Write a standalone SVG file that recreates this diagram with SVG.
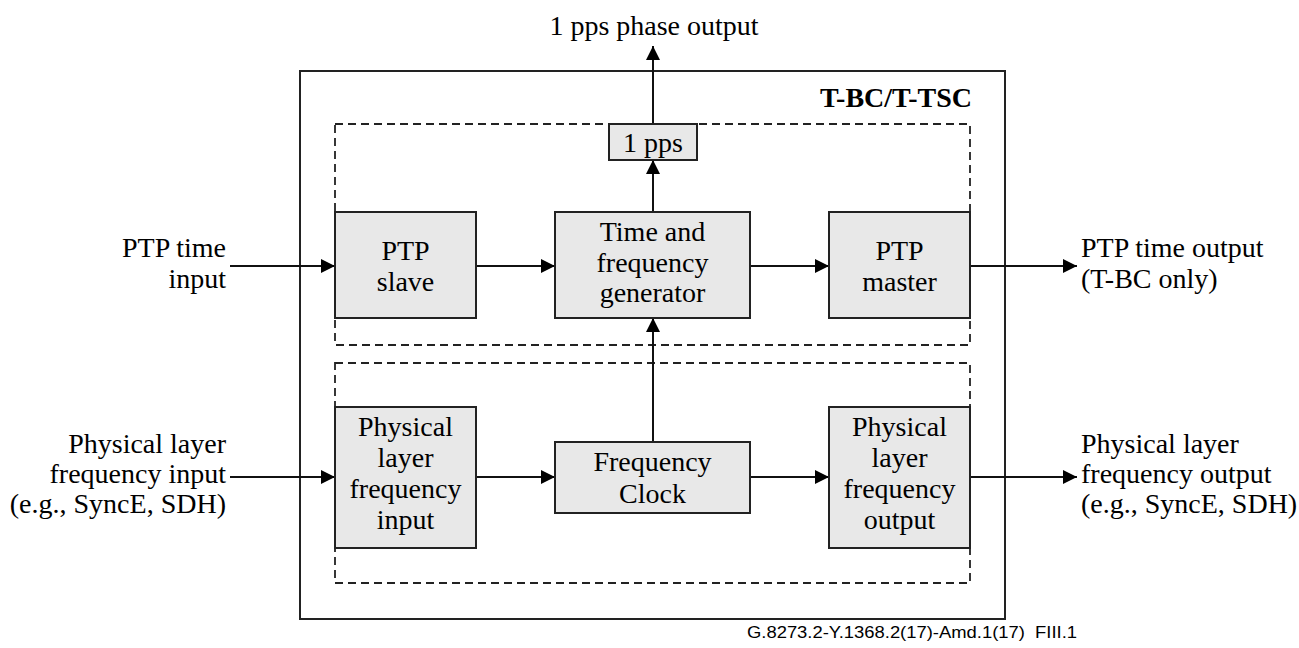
<svg xmlns="http://www.w3.org/2000/svg" width="1299" height="648" viewBox="0 0 1299 648">
<style>
text.t{font-family:'Liberation Serif','DejaVu Serif','Times New Roman',serif;font-size:28px;fill:#000}
text.m{text-anchor:middle}
text.e{text-anchor:end}
text.b{font-weight:bold}
.box{fill:#e8e8e8;stroke:#222;stroke-width:2}
.dash{fill:none;stroke:#222;stroke-width:1.8;stroke-dasharray:8 5}
.ln{fill:none;stroke:#111;stroke-width:2}
text.foot{font-family:'Liberation Sans',Arial,sans-serif;font-size:16px;fill:#000}
</style>
<defs>
<marker id="ah" markerUnits="userSpaceOnUse" markerWidth="16" markerHeight="16" refX="14" refY="7" orient="auto">
<path d="M0,0 L14,7 L0,14 z" fill="#000"/>
</marker>
</defs>
<rect id="outer" x="300" y="71" width="705" height="548" fill="none" stroke="#222" stroke-width="2"/>
<text id="title" class="t e b" x="972" y="107">T-BC/T-TSC</text>
<rect id="upper-group" class="dash" x="335" y="124" width="635" height="221"/>
<rect id="lower-group" class="dash" x="335" y="363" width="635" height="220"/>
<g id="connectors">
<line class="ln" x1="653" y1="124" x2="653" y2="46" marker-end="url(#ah)"/>
<line class="ln" x1="653" y1="212" x2="653" y2="160" marker-end="url(#ah)"/>
<line class="ln" x1="653" y1="442" x2="653" y2="318" marker-end="url(#ah)"/>
<line class="ln" x1="230" y1="266" x2="335" y2="266" marker-end="url(#ah)"/>
<line class="ln" x1="476" y1="266" x2="555" y2="266" marker-end="url(#ah)"/>
<line class="ln" x1="750" y1="266" x2="829" y2="266" marker-end="url(#ah)"/>
<line class="ln" x1="970" y1="266" x2="1077" y2="266" marker-end="url(#ah)"/>
<line class="ln" x1="230" y1="477" x2="335" y2="477" marker-end="url(#ah)"/>
<line class="ln" x1="476" y1="477" x2="555" y2="477" marker-end="url(#ah)"/>
<line class="ln" x1="750" y1="477" x2="829" y2="477" marker-end="url(#ah)"/>
<line class="ln" x1="970" y1="477" x2="1077" y2="477" marker-end="url(#ah)"/>
</g>
<g id="pps">
<rect class="box" x="609" y="124" width="88" height="36"/>
<text class="t m" x="653" y="152">1 pps</text>
</g>
<g id="ptp-slave">
<rect class="box" x="335" y="212" width="141" height="106"/>
<text class="t m" x="405.5" y="260">PTP</text>
<text class="t m" x="405.5" y="291">slave</text>
</g>
<g id="tfg">
<rect class="box" x="555" y="212" width="195" height="106"/>
<text class="t m" x="652.5" y="241">Time and</text>
<text class="t m" x="652.5" y="272">frequency</text>
<text class="t m" x="652.5" y="302">generator</text>
</g>
<g id="ptp-master">
<rect class="box" x="829" y="212" width="141" height="106"/>
<text class="t m" x="899.5" y="260">PTP</text>
<text class="t m" x="899.5" y="291">master</text>
</g>
<g id="plfi">
<rect class="box" x="335" y="407" width="141" height="141"/>
<text class="t m" x="405.5" y="436">Physical</text>
<text class="t m" x="405.5" y="467">layer</text>
<text class="t m" x="405.5" y="498">frequency</text>
<text class="t m" x="405.5" y="529">input</text>
</g>
<g id="freq-clock">
<rect class="box" x="555" y="442" width="195" height="71"/>
<text class="t m" x="652.5" y="471">Frequency</text>
<text class="t m" x="652.5" y="503">Clock</text>
</g>
<g id="plfo">
<rect class="box" x="829" y="407" width="141" height="141"/>
<text class="t m" x="899.5" y="436">Physical</text>
<text class="t m" x="899.5" y="467">layer</text>
<text class="t m" x="899.5" y="498">frequency</text>
<text class="t m" x="899.5" y="529">output</text>
</g>
<text class="t m" x="654" y="35">1 pps phase output</text>
<text class="t e" x="226" y="257">PTP time</text>
<text class="t e" x="226" y="288">input</text>
<text class="t e" x="226" y="453">Physical layer</text>
<text class="t e" x="226" y="483">frequency input</text>
<text class="t e" x="226" y="513">(e.g., SyncE, SDH)</text>
<text class="t" x="1081" y="257">PTP time output</text>
<text class="t" x="1081" y="288">(T-BC only)</text>
<text class="t" x="1081" y="453">Physical layer</text>
<text class="t" x="1081" y="483">frequency output</text>
<text class="t" x="1081" y="513">(e.g., SyncE, SDH)</text>
<text class="foot" x="747" y="638" xml:space="preserve" textLength="330" lengthAdjust="spacingAndGlyphs">G.8273.2-Y.1368.2(17)-Amd.1(17)  FIII.1</text>
</svg>
